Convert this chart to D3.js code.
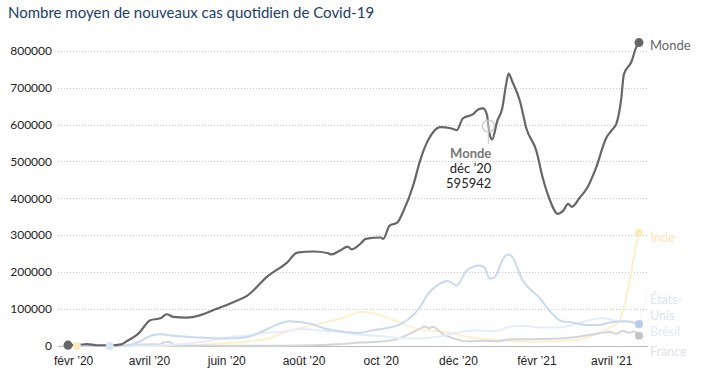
<!DOCTYPE html>
<html>
<head>
<meta charset="utf-8">
<script src="https://cdn.jsdelivr.net/npm/d3@7"></script>
<style>
  body, html { margin:0; padding:0; background:#fff; }
  svg { display:block; font-family: Lato, "Open Sans", sans-serif; }
  .grid line { stroke:#c8c8c8; stroke-dasharray:1,2; }
  .ylab, .xlab { fill:#222; font-size:12px; }
</style>
</head>
<body>
<svg id="chart" width="711" height="391"></svg>
<script>
// --- data ---
var title = "Nombre moyen de nouveaux cas quotidien de Covid-19";
var yTicks = [0, 100000, 200000, 300000, 400000, 500000, 600000, 700000, 800000];
var xTickDates = ["2020-02-01", "2020-04-01", "2020-06-01", "2020-08-01", "2020-10-01", "2020-12-01", "2021-02-01", "2021-04-01"];
var xTickLabels = ["févr ’20", "avril ’20", "juin ’20", "août ’20", "oct ’20", "déc ’20", "févr ’21", "avril ’21"];
var seriesNames = ["Inde", "France", "Brésil", "États-Unis", "Monde"];

var monde = [["2020-01-28",2500],["2020-02-05",3000],["2020-02-12",5000],["2020-02-20",2000],["2020-03-01",2000],["2020-03-10",4500],["2020-03-14",12000],["2020-03-24",35000],["2020-04-02",70000],["2020-04-10",75000],["2020-04-15",86000],["2020-04-20",79000],["2020-05-01",77000],["2020-05-11",83000],["2020-05-24",100000],["2020-06-06",118000],["2020-06-17",135000],["2020-07-04",190000],["2020-07-19",226000],["2020-07-27",253000],["2020-08-09",256000],["2020-08-20",252000],["2020-08-23",248000],["2020-08-30",259000],["2020-09-05",269000],["2020-09-08",262000],["2020-09-15",277000],["2020-09-19",290000],["2020-10-01",294000],["2020-10-03",290000],["2020-10-08",326000],["2020-10-14",334000],["2020-10-19",366000],["2020-10-27",439000],["2020-11-01",501000],["2020-11-07",555000],["2020-11-12",582000],["2020-11-17",593000],["2020-11-25",590000],["2020-11-30",585000],["2020-12-05",617000],["2020-12-13",628000],["2020-12-17",641000],["2020-12-21",644000],["2020-12-24",625000],["2020-12-25",595942],["2020-12-26",574000],["2020-12-28",560000],["2021-01-01",609000],["2021-01-05",644000],["2021-01-08",708000],["2021-01-10",738000],["2021-01-13",716000],["2021-01-19",663000],["2021-01-24",590000],["2021-02-01",528000],["2021-02-06",455000],["2021-02-11",401000],["2021-02-18",358000],["2021-02-22",366000],["2021-02-26",385000],["2021-03-01",377000],["2021-03-07",401000],["2021-03-13",428000],["2021-03-20",482000],["2021-03-28",563000],["2021-04-02",587000],["2021-04-05",601000],["2021-04-09",671000],["2021-04-11",735000],["2021-04-17",770000],["2021-04-21",811000],["2021-04-23",822000]];

var etatsUnis = [["2020-01-28",0],["2020-03-01",10],["2020-03-13",1500],["2020-03-24",11000],["2020-04-04",30000],["2020-04-10",32000],["2020-04-20",28000],["2020-05-11",23000],["2020-06-01",20000],["2020-06-17",24000],["2020-06-30",40000],["2020-07-11",58000],["2020-07-21",67000],["2020-08-07",60000],["2020-08-17",48000],["2020-08-30",40000],["2020-09-13",35000],["2020-09-25",43000],["2020-10-08",50000],["2020-10-16",58000],["2020-10-27",85000],["2020-11-01",105000],["2020-11-07",140000],["2020-11-15",165000],["2020-11-23",176000],["2020-11-30",164000],["2020-12-08",205000],["2020-12-18",218000],["2020-12-22",213000],["2020-12-26",183000],["2020-12-30",186000],["2021-01-05",232000],["2021-01-09",248000],["2021-01-12",245000],["2021-01-21",178000],["2021-02-03",132000],["2021-02-13",89000],["2021-02-21",67000],["2021-03-01",64000],["2021-03-12",57000],["2021-03-22",57000],["2021-04-02",65000],["2021-04-13",67000],["2021-04-23",59000]];

var bresil = [["2020-03-01",0],["2020-03-20",500],["2020-04-10",1500],["2020-04-30",6000],["2020-05-15",12000],["2020-05-30",22000],["2020-06-15",28000],["2020-06-30",35000],["2020-07-15",38000],["2020-07-31",46000],["2020-08-15",42000],["2020-08-31",38000],["2020-09-15",30000],["2020-09-30",27000],["2020-10-15",22000],["2020-10-31",20000],["2020-11-15",25000],["2020-11-30",36000],["2020-12-15",42000],["2020-12-31",40000],["2021-01-10",52000],["2021-01-20",55000],["2021-02-05",50000],["2021-02-20",50000],["2021-03-01",57000],["2021-03-15",70000],["2021-03-25",76000],["2021-04-05",68000],["2021-04-15",66000],["2021-04-23",60000]];

var inde = [["2020-02-04",0],["2020-03-15",15],["2020-04-01",300],["2020-04-15",900],["2020-05-01",1800],["2020-05-15",3700],["2020-06-01",8000],["2020-06-17",11000],["2020-07-01",18000],["2020-07-23",43000],["2020-08-13",60000],["2020-09-03",78000],["2020-09-15",92000],["2020-09-25",89000],["2020-10-11",70000],["2020-11-01",45000],["2020-11-23",38000],["2020-12-08",25000],["2021-01-03",16000],["2021-02-03",11500],["2021-03-07",17000],["2021-03-22",35000],["2021-03-30",48000],["2021-04-04",58000],["2021-04-08",72000],["2021-04-12",118000],["2021-04-15",168000],["2021-04-18",220000],["2021-04-20",260000],["2021-04-23",307000]];

var france = [["2020-01-28",0],["2020-03-01",20],["2020-03-15",700],["2020-03-25",3500],["2020-04-05",4500],["2020-04-09",4000],["2020-04-13",10000],["2020-04-17",11000],["2020-04-21",3000],["2020-05-01",1000],["2020-05-15",600],["2020-06-01",400],["2020-06-15",500],["2020-07-01",600],["2020-07-15",700],["2020-08-01",1200],["2020-08-15",2500],["2020-09-01",5500],["2020-09-15",9500],["2020-10-01",12000],["2020-10-15",20000],["2020-10-25",35000],["2020-11-01",47000],["2020-11-05",53000],["2020-11-08",48000],["2020-11-11",52000],["2020-11-18",35000],["2020-11-28",20000],["2020-12-08",13000],["2020-12-22",14000],["2021-01-01",13000],["2021-01-12",18000],["2021-02-08",19000],["2021-03-01",23000],["2021-03-22",34000],["2021-03-31",38000],["2021-04-05",33000],["2021-04-10",41000],["2021-04-15",36000],["2021-04-19",39000],["2021-04-23",28000]];

var hoverPoint = { serie: "Monde", date: "2020-12-25", label: "déc ’20", value: 595942 };

// --- drawing ---
var parse = d3.timeParse("%Y-%m-%d");
var svg = d3.select("#chart");

var x = d3.scaleTime()
  .domain([parse("2020-01-28"), parse("2021-04-23")])
  .range([68, 639]);
var y = d3.scaleLinear().domain([0, 800000]).range([346, 50.7]);

var styles = {
  "Monde":      { data: monde,     color: "#666666", dot: "#666666", text: "#666666", width: 2.2 },
  "Inde":       { data: inde,      color: "#fdf0cc", dot: "#fdebbc", text: "#fbe6b8", width: 2 },
  "États-Unis": { data: etatsUnis, color: "#c8d9f0", dot: "#b7cdee", text: "#dbe5f4", width: 2 },
  "Brésil":     { data: bresil,    color: "#e4edf9", dot: "#d6e4f6", text: "#e3eaf5", width: 2 },
  "France":     { data: france,    color: "#d2d5da", dot: "#c2c4c8", text: "#e0e3ea", width: 2 }
};

svg.append("text").attr("x", 8).attr("y", 18)
  .attr("fill", "#203d68").attr("font-size", 15).text(title);

// grid
var grid = svg.append("g").attr("class", "grid");
grid.selectAll("line").data(yTicks.filter(function(d){ return d > 0; })).enter()
  .append("line")
  .attr("x1", 58).attr("x2", 648)
  .attr("y1", function(d){ return Math.round(y(d)) + 0.5; })
  .attr("y2", function(d){ return Math.round(y(d)) + 0.5; });
svg.append("line").attr("x1", 58).attr("x2", 648)
  .attr("y1", y(0) + 0.5).attr("y2", y(0) + 0.5)
  .attr("stroke", "#bbb").attr("stroke-width", 1);

// y labels
svg.selectAll(".ylab").data(yTicks).enter().append("text")
  .attr("class", "ylab").attr("text-anchor", "end")
  .attr("x", 52).attr("y", function(d){ return y(d); }).attr("dy", "0.35em")
  .text(function(d){ return d; });

// x labels
var xAxis = d3.axisBottom(x)
  .tickValues(xTickDates.map(parse))
  .tickSize(0).tickPadding(10)
  .tickFormat(function(d, i){ return xTickLabels[i]; });
var gx = svg.append("g").attr("transform", "translate(0," + y(0) + ")").call(xAxis);
gx.select(".domain").remove();
gx.selectAll("text").attr("class", "xlab").attr("font-family", null).attr("font-size", 12).attr("fill", "#222");

// lines
var line = d3.line()
  .x(function(d){ return x(parse(d[0])); })
  .y(function(d){ return y(d[1]); })
  .curve(d3.curveMonotoneX);

seriesNames.forEach(function(name){
  var s = styles[name];
  svg.append("path").datum(s.data)
    .attr("fill", "none").attr("stroke", s.color)
    .attr("stroke-width", s.width).attr("stroke-linejoin", "round")
    .attr("d", line);
});

// start / end dots
seriesNames.forEach(function(name){
  var s = styles[name];
  var first = s.data[0], last = s.data[s.data.length - 1];
  var r = name === "Monde" ? 4.5 : 4;
  [first, last].forEach(function(p){
    svg.append("circle")
      .attr("cx", x(parse(p[0]))).attr("cy", y(p[1])).attr("r", r)
      .attr("fill", s.dot);
  });
});

// end labels with small leaders
var lastOf = function(name){ var d = styles[name].data; return d[d.length - 1]; };
var endX = x(parse(lastOf("Monde")[0]));
var labelPos = {
  "Monde": [y(lastOf("Monde")[1]) + 7],
  "Inde": [y(lastOf("Inde")[1]) + 9],
  "États-Unis": [304, 320],
  "Brésil": [336],
  "France": [356]
};
svg.append("line").attr("x1", endX + 2).attr("y1", y(lastOf("États-Unis")[1]) - 4)
  .attr("x2", endX + 8).attr("y2", 292)
  .attr("stroke", styles["États-Unis"].text).attr("stroke-dasharray", "1,2");
svg.append("line").attr("x1", endX + 2).attr("y1", y(lastOf("France")[1]) + 3)
  .attr("x2", endX + 8).attr("y2", 346)
  .attr("stroke", styles["France"].text).attr("stroke-dasharray", "1,2");

seriesNames.forEach(function(name){
  var s = styles[name];
  var parts = name === "États-Unis" ? ["États-", "Unis"] : [name];
  var fs = (name === "Monde" || name === "Inde") ? 13 : 12.5;
  parts.forEach(function(t, i){
    svg.append("text").attr("x", endX + 11).attr("y", labelPos[name][i])
      .attr("fill", s.text).attr("font-size", fs).text(t);
  });
});

// hover annotation
var hx = x(parse(hoverPoint.date)), hy = y(hoverPoint.value);
svg.append("circle").attr("cx", hx).attr("cy", hy).attr("r", 6)
  .attr("fill", "rgba(255,255,255,0.4)").attr("stroke", "#c8c8c8").attr("stroke-width", 1.2);
svg.append("line").attr("x1", hx).attr("x2", hx).attr("y1", hy + 6).attr("y2", hy + 18)
  .attr("stroke", "#c8c8c8");
var ann = svg.append("text").attr("text-anchor", "end").attr("font-size", 13);
ann.append("tspan").attr("x", hx + 3).attr("y", 158).attr("font-weight", "bold").attr("fill", "#777").text(hoverPoint.serie);
ann.append("tspan").attr("x", hx + 3).attr("y", 173).attr("fill", "#222").text(hoverPoint.label);
ann.append("tspan").attr("x", hx + 3).attr("y", 188).attr("fill", "#222").text(hoverPoint.value);
</script>
</body>
</html>
